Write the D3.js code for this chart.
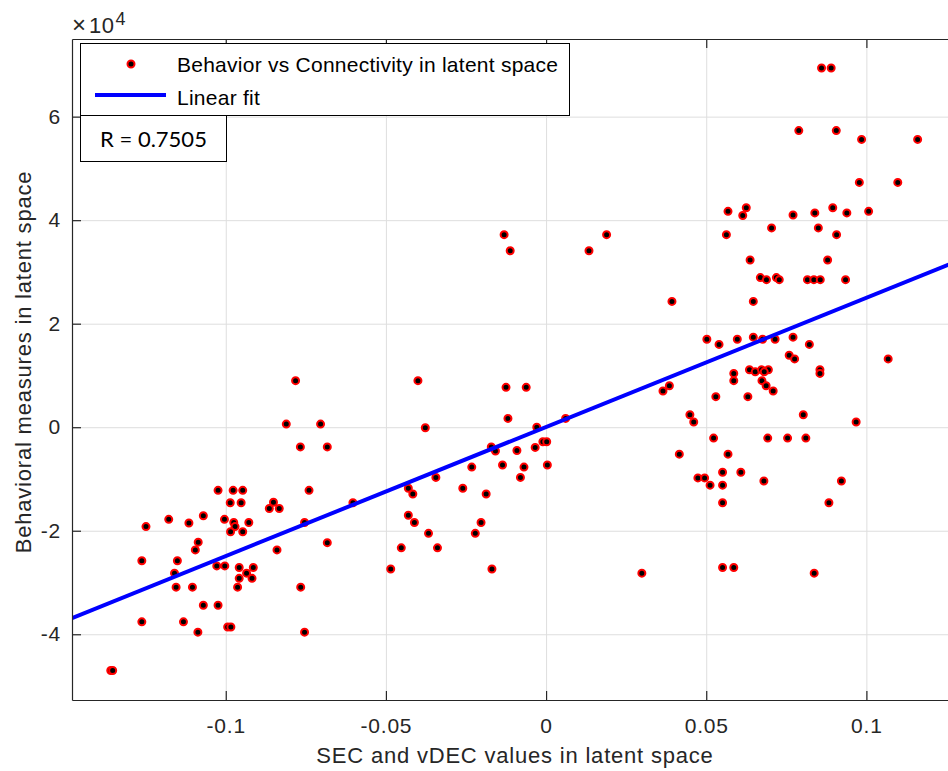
<!DOCTYPE html>
<html lang="en">
<head>
    <meta charset="UTF-8">
    <title>Behavior vs Connectivity in latent space</title>
    <style>
        body { margin: 0; background: #fff; }
        text { font-family: "Liberation Sans", Arial, sans-serif; fill: #262626; }
        .grid line { stroke: #dedede; stroke-width: 1; }
        .grid path { display: none; }
        .axis path, .axis line { stroke: #262626; stroke-width: 1.2; }
    </style>
</head>
<body>
<div id="chart"></div>
<script src="https://d3js.org/d3.v7.min.js"></script>
<script>
    // points: [SEC/vDEC value, behavioral measure]
    const points = [
        [-0.0811, 600], [-0.0704, 600], [-0.0767, -3800], [-0.0683, -3800], [-0.1024, -12200],
        [-0.0977, -12200], [-0.0947, -12200], [-0.0740, -12200], [-0.0986, -14600], [-0.0952, -14600],
        [-0.0851, -14500], [-0.0864, -15700], [-0.0833, -15700], [-0.0603, -14600], [-0.1178, -17800],
        [-0.1249, -19200], [-0.1115, -18500], [-0.1070, -17100], [-0.1004, -17800], [-0.0975, -18400],
        [-0.0971, -19200], [-0.0928, -18400], [-0.0985, -20200], [-0.0947, -20200], [-0.0754, -18400],
        [-0.0683, -22300], [-0.1086, -22200], [-0.1095, -23700], [-0.0840, -23700], [-0.1262, -25800],
        [-0.1151, -25800], [-0.1160, -28200], [-0.1028, -26800], [-0.1003, -26800], [-0.0958, -27100],
        [-0.0914, -27100], [-0.0935, -28200], [-0.0958, -29200], [-0.0918, -29200], [-0.1155, -30900],
        [-0.1104, -30900], [-0.0963, -30900], [-0.0766, -30900], [-0.1070, -34400], [-0.1024, -34400],
        [-0.1262, -37600], [-0.1132, -37600], [-0.0994, -38600], [-0.0984, -38600], [-0.1087, -39600],
        [-0.0754, -39600], [-0.1359, -47000], [-0.1353, -47000], [-0.0782, 9000],
        [-0.0400, 9000], [-0.0125, 7700], [-0.0062, 7700], [-0.0119, 1700], [-0.0377, -100],
        [-0.0029, 0], [0.0061, 1700], [-0.0010, -2800], [0.0002, -2800], [-0.0034, -3900],
        [-0.0171, -3800], [-0.0158, -4600], [-0.0091, -4500], [-0.0232, -7700], [-0.0136, -7300],
        [-0.0069, -7700], [0.0004, -7300], [-0.0080, -9700], [-0.0344, -9700], [-0.0430, -11800],
        [-0.0416, -12900], [-0.0260, -11800], [-0.0187, -12900], [-0.0430, -17000], [-0.0411, -18400],
        [-0.0203, -18400], [-0.0367, -20500], [-0.0221, -20500], [-0.0452, -23300], [-0.0339, -23300],
        [-0.0485, -27400], [-0.0169, -27400], [0.0299, -28200], [-0.0131, 37200], [-0.0112, 34100],
        [0.0189, 37200], [0.0134, 34100],
        [0.0860, 69400], [0.0890, 69400], [0.0789, 57300], [0.0906, 57300], [0.0985, 55600],
        [0.1160, 55600], [0.0978, 47300], [0.1098, 47300], [0.0568, 41700], [0.0614, 40900],
        [0.0625, 42400], [0.0771, 41000], [0.0839, 41400], [0.0895, 42400], [0.0939, 41400],
        [0.1007, 41700], [0.0563, 37200], [0.0704, 38500], [0.0850, 38500], [0.0907, 37200],
        [0.0637, 32300], [0.0879, 32300], [0.0669, 28900], [0.0688, 28500], [0.0719, 28900],
        [0.0728, 28500], [0.0816, 28500], [0.0836, 28500], [0.0856, 28500], [0.0935, 28500],
        [0.0393, 24300], [0.0647, 24300], [0.0502, 17000], [0.0540, 16000], [0.0597, 17000],
        [0.0647, 17400], [0.0676, 17000], [0.0715, 17000], [0.0771, 17400], [0.0822, 16000],
        [0.0759, 13900], [0.0776, 13200], [0.1068, 13200], [0.0586, 10400], [0.0586, 9000],
        [0.0635, 11100], [0.0653, 10700], [0.0673, 11100], [0.0694, 11100], [0.0681, 10700],
        [0.0674, 9000], [0.0687, 8000], [0.0709, 7000], [0.0855, 11100], [0.0855, 10400],
        [0.0385, 8000], [0.0365, 7000], [0.0530, 5900], [0.0630, 5900], [0.0449, 2400],
        [0.0461, 1000], [0.0803, 2400], [0.0968, 1000], [0.0523, -2100], [0.0692, -2100],
        [0.0754, -2100], [0.0811, -2100], [0.0416, -5200], [0.0568, -5200], [0.0551, -8700],
        [0.0608, -8700], [0.0474, -9800], [0.0495, -9800], [0.0512, -11200], [0.0551, -11200],
        [0.0680, -10400], [0.0922, -10400], [0.0551, -14600], [0.0883, -14600], [0.0551, -27100],
        [0.0586, -27100], [0.0837, -28200]
    ];

    // linear fit
    const fitSlope = 249500;
    const fitIntercept = 50;

    const xDomain = [-0.148, 0.1286];
    const yDomain = [-52700, 75000];
    const xTicks = [-0.1, -0.05, 0, 0.05, 0.1];
    const yTicks = [-40000, -20000, 0, 20000, 40000, 60000];
    const legendLabels = ['Behavior vs Connectivity in latent space', 'Linear fit'];
    const rText = 'R = 0.7505';

    const width = 948, height = 771;
    const plotLeft = 72, plotTop = 39, plotRight = 958, plotBottom = 700;

    const svg = d3.select('#chart').append('svg')
        .attr('width', width)
        .attr('height', height);

    const x = d3.scaleLinear().domain(xDomain).range([plotLeft, plotRight]);
    const y = d3.scaleLinear().domain(yDomain).range([plotBottom, plotTop]);

    svg.append('defs').append('clipPath').attr('id', 'plot-clip')
        .append('rect')
        .attr('x', plotLeft).attr('y', plotTop)
        .attr('width', plotRight - plotLeft).attr('height', plotBottom - plotTop);

    // grid
    svg.append('g').attr('class', 'grid')
        .attr('transform', `translate(0,${plotBottom})`)
        .call(d3.axisBottom(x).tickValues(xTicks).tickSize(-(plotBottom - plotTop)).tickFormat(''));
    svg.append('g').attr('class', 'grid')
        .attr('transform', `translate(${plotLeft},0)`)
        .call(d3.axisLeft(y).tickValues(yTicks).tickSize(-(plotRight - plotLeft)).tickFormat(''));

    // data
    const plot = svg.append('g').attr('clip-path', 'url(#plot-clip)');

    plot.selectAll('.dot')
        .data(points)
        .enter()
        .append('circle')
        .attr('class', 'dot')
        .attr('cx', d => x(d[0]))
        .attr('cy', d => y(d[1]))
        .attr('r', 3.5)
        .attr('fill', '#000')
        .attr('stroke', '#ff0000')
        .attr('stroke-width', 2);

    plot.append('line')
        .attr('x1', x(xDomain[0])).attr('y1', y(fitSlope * xDomain[0] + fitIntercept))
        .attr('x2', x(xDomain[1])).attr('y2', y(fitSlope * xDomain[1] + fitIntercept))
        .attr('stroke', '#0000ff')
        .attr('stroke-width', 4);

    // axes (ticks point inward like MATLAB)
    svg.append('g').attr('class', 'axis')
        .attr('transform', `translate(0,${plotBottom})`)
        .call(d3.axisBottom(x).tickValues(xTicks).tickSizeInner(-9).tickSizeOuter(0).tickPadding(18)
            .tickFormat(d => String(d)))
        .selectAll('text').style('font-size', '21px').style('letter-spacing', '0.8px');
    svg.append('g').attr('class', 'axis')
        .attr('transform', `translate(0,${plotTop})`)
        .call(d3.axisTop(x).tickValues(xTicks).tickSizeInner(-9).tickSizeOuter(0).tickFormat(''));
    svg.append('g').attr('class', 'axis')
        .attr('transform', `translate(${plotLeft},0)`)
        .call(d3.axisLeft(y).tickValues(yTicks).tickSizeInner(-9).tickSizeOuter(0).tickPadding(11)
            .tickFormat(d => String(d / 1e4)))
        .selectAll('text').style('font-size', '21px').style('letter-spacing', '0.8px');

    svg.selectAll('.axis text').attr('fill', '#262626');

    // exponent
    const expo = svg.append('text').attr('x', 72).attr('y', 33).style('font-size', '22px');
    expo.append('tspan').style('font-size', '24px').text('\u00d7');
    expo.append('tspan').attr('dx', 3).style('letter-spacing', '0.5px').text('10');
    expo.append('tspan').attr('dy', -8).attr('dx', 1).style('font-size', '18px').text('4');

    // axis labels
    svg.append('text')
        .attr('x', (plotLeft + plotRight) / 2).attr('y', 763)
        .attr('text-anchor', 'middle')
        .style('font-size', '22px').style('letter-spacing', '0.8px')
        .text('SEC and vDEC values in latent space');
    svg.append('text')
        .attr('transform', 'translate(31,362) rotate(-90)')
        .attr('text-anchor', 'middle')
        .style('font-size', '22px').style('letter-spacing', '0.8px')
        .text('Behavioral measures in latent space');

    // legend
    const legend = svg.append('g');
    legend.append('rect')
        .attr('x', 80.5).attr('y', 43.5).attr('width', 489).attr('height', 72)
        .attr('fill', '#fff').attr('stroke', '#000').attr('stroke-width', 1);
    legend.append('circle')
        .attr('cx', 131).attr('cy', 64).attr('r', 3.5)
        .attr('fill', '#000').attr('stroke', '#ff0000').attr('stroke-width', 2);
    legend.append('line')
        .attr('x1', 95).attr('x2', 166).attr('y1', 95).attr('y2', 95)
        .attr('stroke', '#0000ff').attr('stroke-width', 4);
    legend.selectAll('.legend-label')
        .data(legendLabels)
        .enter()
        .append('text')
        .attr('class', 'legend-label')
        .attr('x', 177)
        .attr('y', (d, i) => 72 + i * 33)
        .style('font-size', '21px').style('letter-spacing', '0.25px')
        .style('fill', '#000')
        .text(d => d);

    // R annotation box
    svg.append('rect')
        .attr('x', 80.5).attr('y', 115.5).attr('width', 146).attr('height', 46)
        .attr('fill', '#fff').attr('stroke', '#000').attr('stroke-width', 1);
    svg.append('text')
        .attr('x', 153.5).attr('y', 146.5)
        .attr('text-anchor', 'middle')
        .style('font-family', 'Lato, "Open Sans", sans-serif')
        .style('font-size', '22px')
        .style('fill', '#000')
        .text(rText);
</script>
</body>
</html>
